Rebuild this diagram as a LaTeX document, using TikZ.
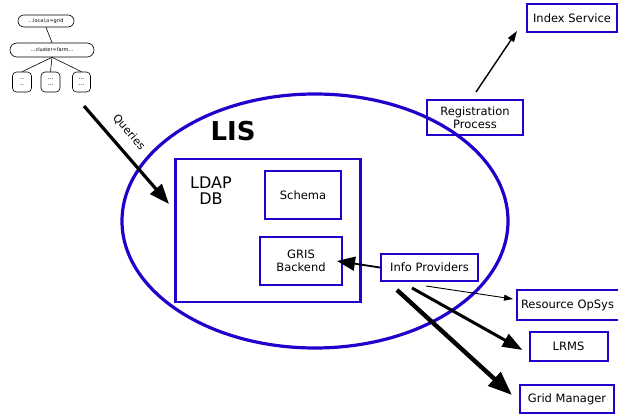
\documentclass[tikz,border=0pt]{standalone}
\usepackage{fontspec}
\setmainfont{DejaVu Sans}
\usetikzlibrary{arrows.meta}
\definecolor{lisblue}{RGB}{34,0,204}
\begin{document}
\begin{tikzpicture}[x=1pt,y=-1pt,
  every node/.style={font=\fontsize{11.5}{12.5}\selectfont},
  bbox/.style={draw=lisblue,line width=2pt,inner sep=0pt,align=center},
  tnode/.style={draw=black,line width=0.6pt,inner sep=0pt,font=\fontsize{5}{5.5}\selectfont,align=center},
]
\useasboundingbox (0,0) rectangle (618,414);
% tree
\node[tnode,rounded corners=6pt,minimum width=56pt,minimum height=12pt] (t1) at (46,21) {...local,o=grid};
\node[tnode,rounded corners=7pt,minimum width=84pt,minimum height=14pt] (t2) at (52,50) {...cluster=farm...};
\node[tnode,rounded corners=4pt,minimum width=19pt,minimum height=20pt,font=\fontsize{6}{6}\selectfont] (l1) at (22,82) {..\\..};
\node[tnode,rounded corners=4pt,minimum width=19pt,minimum height=20pt,font=\fontsize{6}{6}\selectfont] (l2) at (50.5,82) {...\\...};
\node[tnode,rounded corners=4pt,minimum width=18pt,minimum height=20pt,font=\fontsize{6}{6}\selectfont] (l3) at (81.5,82) {...\\...};
\draw[line width=0.6pt] (t1.south) -- (t2.north);
\draw[line width=0.6pt] (t2.south) -- (l1.north);
\draw[line width=0.6pt] (t2.south) -- (l2.north);
\draw[line width=0.6pt] (t2.south) -- (l3.north);
% LIS ellipse
\draw[lisblue,line width=3.2pt] (315,221) ellipse [x radius=193, y radius=127];
\node[font=\fontsize{26}{28}\selectfont\bfseries] (lis) at (233,131) {LIS};
% LDAP box
\node[draw=lisblue,line width=2.8pt,minimum width=185pt,minimum height=143pt,inner sep=0pt] (ldap) at (268,230.5) {};
\node[font=\fontsize{16}{16}\selectfont,align=center] (ldaptxt) at (211,191) {LDAP\\DB};
\node[bbox,minimum width=76pt,minimum height=47pt] (schema) at (303,195) {Schema};
\node[bbox,minimum width=82pt,minimum height=48pt] (gris) at (301,261) {GRIS\\Backend};
\node[bbox,minimum width=97pt,minimum height=27pt] (info) at (429.5,267.5) {Info Providers};
\node[bbox,minimum width=96pt,minimum height=35pt] (reg) at (475,117.5) {Registration\\Process};
\node[bbox,minimum width=90pt,minimum height=28pt] (idx) at (572,18) {Index Service};
\node[bbox,minimum width=110pt,minimum height=30pt,anchor=west,text width=102pt,align=left] (ros) at (516,305) {Resource OpSys};
\node[bbox,minimum width=78pt,minimum height=29pt] (lrms) at (568.5,346.5) {LRMS};
\node[bbox,minimum width=94pt,minimum height=28pt] (gm) at (567,399) {Grid Manager};
% arrows
\coordinate (qs) at (84,106);
\coordinate (qe) at (169,204);
\draw[-{Triangle[length=20pt,width=15pt]},line width=3.2pt] (qs) -- node[pos=0.38,sloped,above=7pt,font=\fontsize{11}{12}\selectfont] (qlab) {Queries} (qe);
\draw[-{Triangle[length=18pt,width=14pt]},line width=1.8pt] (info.west) -- ([xshift=-6pt]gris.east);
\draw[-{Triangle[length=11pt,width=7pt]},line width=1.4pt] ([xshift=1pt,yshift=7pt]reg.north) -- ([xshift=-9pt,yshift=-13pt]idx.west);
\coordinate (a1) at (426,286);
\coordinate (a2) at (412,288);
\coordinate (a3) at (397,290);
\draw[-{Triangle[length=9pt,width=6pt]},line width=0.9pt] (a1) -- ([xshift=-3pt,yshift=6pt]ros.west);
\draw[-{Triangle[length=20pt,width=14pt]},line width=3pt] (a2) -- ([xshift=-6pt,yshift=-3.5pt]lrms.west);
\draw[-{Triangle[length=24pt,width=18pt]},line width=4.4pt] (a3) -- ([xshift=-7pt,yshift=4pt]gm.west);
\end{tikzpicture}
\end{document}
